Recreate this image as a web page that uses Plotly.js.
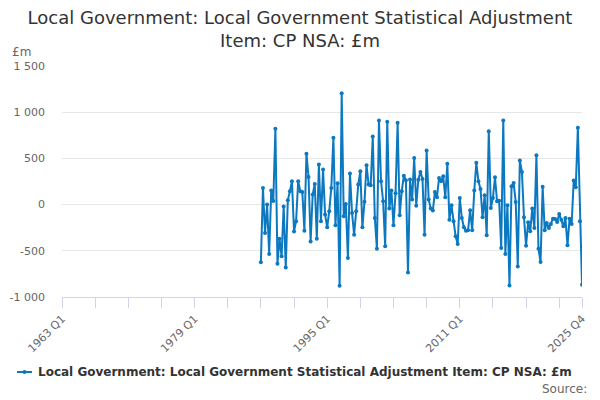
<!DOCTYPE html>
<html>
<head>
<meta charset="utf-8">
<script src="https://cdn.plot.ly/plotly-3.0.1.min.js"></script>
<style>
    html, body { margin: 0; padding: 0; background: #ffffff; }
    #myDiv { width: 600px; height: 400px; }
</style>
</head>
<body>
<div id="myDiv"></div>
<script>
// Series runs from 1987 Q1 to 2025 Q4 (£m)
const firstAxisYear = 1963;
const lastAxisYear = 2025;
const seriesStartYear = 1987;
const seriesName = 'Local Government: Local Government Statistical Adjustment Item: CP NSA: £m';

const values = [
    -625, 181, -307, 0, -535, 152, 40, 820, -640, -370, -560, -20,
    -680, 47, 145, 253, -290, -180, 253, 145, 137, -282, 550, 300,
    -398, 108, 224, -369, 434, -180, 380, -108, -246, -72, 181, 723,
    -224, 231, -879, 1204, -127, 7, -578, 336, -90, -325, -72, 217,
    360, -246, 30, 427, 217, 210, 737, -145, -477, 911, 253, 36,
    -452, 897, -43, 152, -224, 123, 886, -116, 145, 311, 264, -734,
    271, 54, 505, -12, 270, 354, 278, -325, 586, 54, -43, -65,
    137, 80, 289, 253, 307, 80, 441, -163, -7, -181, -343, -427,
    72, -145, -246, -282, -278, -60, -278, 152, 452, 253, 170, -137,
    101, -333, 795, -36, 72, 296, 36, 43, -470, 911, -535, -7,
    -875, 199, 235, 29, -669, 477, 354, -137, -445, -190, -289, -43,
    -253, 535, -477, -622, 192, -278, -199, -253, -210, -152, -155, -188,
    -101, -163, -235, -145, -441, -152, -210, 260, 188, 832, -181, -868
];

const labelledTicks = ['1963 Q1', '1979 Q1', '1995 Q1', '2011 Q1', '2025 Q4'];
const yTickVals = [-1000, -500, 0, 500, 1000, 1500];
const yTickText = ['-1 000', '-500', '0', '500', '1 000', '1 500'];

// Todas las etiquetas trimestrales del eje
let quarters = [];
for (let y = firstAxisYear; y <= lastAxisYear; y++) {
    for (let q = 1; q <= 4; q++) {
        quarters.push(y + ' Q' + q);
    }
}

let offset = (seriesStartYear - firstAxisYear) * 4;
let yFull = quarters.map((_, i) => (i >= offset && i - offset < values.length) ? values[i - offset] : null);

// marcas cada 4 años + la última
let tickVals = [];
for (let i = 0; i < quarters.length; i += 16) tickVals.push(quarters[i]);
tickVals.push(quarters[quarters.length - 1]);
let tickText = tickVals.map(t => labelledTicks.includes(t) ? t : '');

const blue = '#0b78c0';

let trace = {
    x: quarters,
    y: yFull,
    type: 'scatter',
    mode: 'lines+markers',
    name: seriesName,
    connectgaps: false,
    hoverinfo: 'none',
    line: { color: blue, width: 2 },
    marker: { color: blue, size: 4 }
};

// Plot area in pixels: left 62, right 582, top 66, bottom 297
const plotL = 62, plotR = 582, plotT = 66, plotB = 297;
const px = v => (v - plotL) / (plotR - plotL);
const py = v => (plotB - v) / (plotB - plotT);

let layout = {
    width: 600,
    height: 400,
    paper_bgcolor: '#ffffff',
    plot_bgcolor: '#ffffff',
    font: { family: 'DejaVu Sans, sans-serif', color: '#666666', size: 11 },
    title: {
        text: 'Local Government: Local Government Statistical Adjustment<br>Item: CP NSA: £m',
        font: { family: 'DejaVu Sans, sans-serif', size: 18, color: '#333333' },
        x: 0.5,
        xanchor: 'center',
        y: 0.94,
        yanchor: 'top',
        yref: 'container'
    },
    margin: { l: plotL, r: 600 - plotR, t: plotT, b: 400 - plotB, pad: 0 },
    showlegend: false,
    xaxis: {
        type: 'category',
        range: [0, quarters.length - 1],
        tickmode: 'array',
        tickvals: tickVals,
        ticktext: tickText,
        tickangle: -45,
        ticks: 'outside',
        ticklen: 10,
        tickcolor: '#ccd6eb',
        showline: true,
        linecolor: '#ccd6eb',
        linewidth: 1,
        showgrid: false,
        zeroline: false,
        tickfont: { size: 11, color: '#666666' },
        fixedrange: true
    },
    yaxis: {
        range: [-1000, 1500],
        tickmode: 'array',
        tickvals: yTickVals,
        ticktext: yTickText,
        showgrid: true,
        gridcolor: '#e6e6e6',
        gridwidth: 1,
        zeroline: false,
        showline: false,
        ticks: '',
        ticklabelstandoff: 16,
        tickfont: { size: 11, color: '#666666' },
        fixedrange: true
    },
    shapes: [{
        type: 'line',
        xref: 'paper', yref: 'paper',
        x0: px(17), x1: px(32), y0: py(372), y1: py(372),
        line: { color: blue, width: 2 }
    }, {
        type: 'circle',
        xref: 'paper', yref: 'paper',
        x0: px(22.5), x1: px(26.5), y0: py(374), y1: py(370),
        fillcolor: blue,
        line: { color: blue, width: 0 }
    }],
    annotations: [{
        text: '£m',
        xref: 'paper', yref: 'paper',
        x: px(10), y: py(52),
        xanchor: 'left', yanchor: 'middle',
        showarrow: false,
        font: { size: 12, color: '#666666' }
    }, {
        text: '<b>' + seriesName + '</b>',
        xref: 'paper', yref: 'paper',
        x: px(36), y: py(372),
        xanchor: 'left', yanchor: 'middle',
        showarrow: false,
        font: { size: 12, color: '#333333' }
    }, {
        text: 'Source:',
        xref: 'paper', yref: 'paper',
        x: px(589), y: py(389),
        xanchor: 'right', yanchor: 'middle',
        showarrow: false,
        font: { size: 12, color: '#666666' }
    }]
};

Plotly.newPlot('myDiv', [trace], layout, { displayModeBar: false, staticPlot: true });
</script>
</body>
</html>
